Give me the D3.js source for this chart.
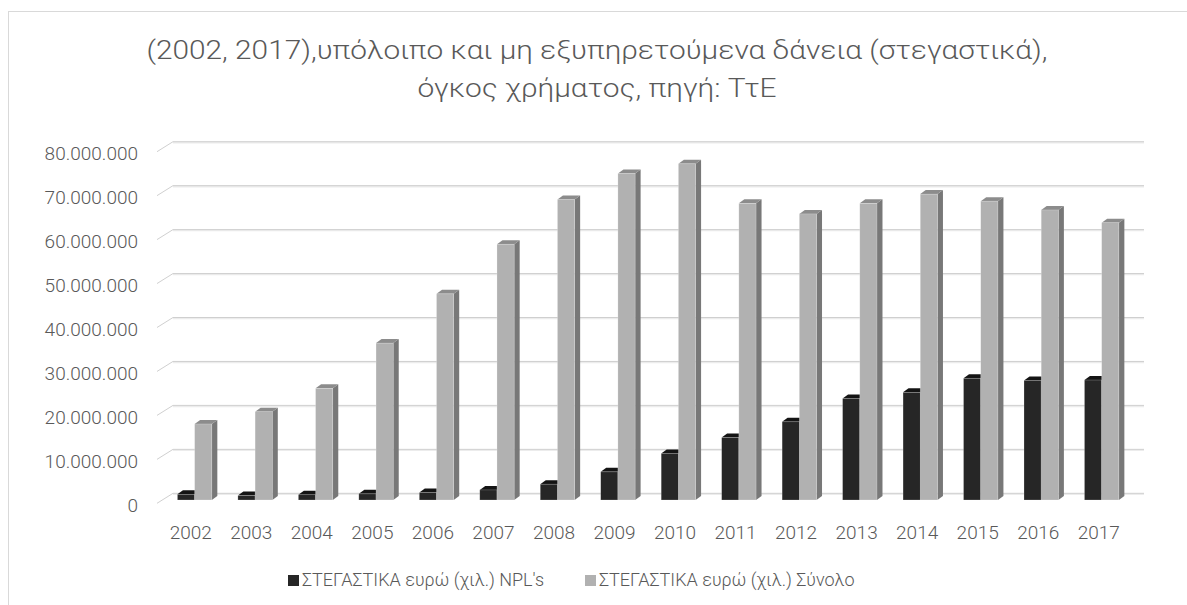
<!DOCTYPE html>
<html>
<head>
<meta charset="utf-8">
<script src="https://cdn.jsdelivr.net/npm/d3@7"></script>
<style>
body { margin: 0; background: #fff; }
text { font-family: "Roboto", "DejaVu Sans", sans-serif; fill: #595959; }
</style>
</head>
<body>
<div id="chart"></div>
<script>
var years = ["2002","2003","2004","2005","2006","2007","2008","2009","2010","2011","2012","2013","2014","2015","2016","2017"];
var nplValues = [1300000, 1000000, 1200000, 1400000, 1700000, 2300000, 3600000, 6400000, 10600000, 14200000, 17800000, 23100000, 24500000, 27700000, 27200000, 27300000];
var totalValues = [17300000, 20100000, 25400000, 35700000, 46900000, 58200000, 68400000, 74300000, 76500000, 67500000, 65100000, 67500000, 69600000, 68000000, 66000000, 63100000];
var yTicks = [0, 10000000, 20000000, 30000000, 40000000, 50000000, 60000000, 70000000, 80000000];
var seriesNames = ["ΣΤΕΓΑΣΤΙΚΑ ευρώ (χιλ.) NPL's", "ΣΤΕΓΑΣΤΙΚΑ ευρώ (χιλ.) Σύνολο"];
var titleLines = ["(2002, 2017),υπόλοιπο και μη εξυπηρετούμενα δάνεια (στεγαστικά),", "όγκος χρήματος, πηγή: ΤτΕ"];

var width = 1187, height = 605;
var depthY = 10;                // floor depth
var barDX = 5.5, barDY = 4;     // bar depth
var barW = 17.2;

var svg = d3.select("#chart").append("svg")
    .attr("width", width)
    .attr("height", height);

// chart border
svg.append("rect")
    .attr("x", 8.5)
    .attr("y", 11.5)
    .attr("width", 1200)
    .attr("height", 700)
    .attr("fill", "none")
    .attr("stroke", "#d9d9d9");

var yBack = d3.scaleLinear().domain([0, 80000000]).range([493.3, 141.7]);
var yBar = d3.scaleLinear().domain([0, 80000000]).range([500, 148.4]);
var x = d3.scaleBand().domain(years).range([164.4, 1131.9]).padding(0);
var xLabel = d3.scaleBand().domain(years).range([160.5, 1129]).padding(0);

// title
var titleWidths = [901, 359];
svg.selectAll(".title")
    .data(titleLines)
    .enter().append("text")
    .attr("class", "title")
    .attr("x", 597)
    .attr("y", function (d, i) { return 50 + i * 38; })
    .attr("dy", "0.35em")
    .attr("textLength", function (d, i) { return titleWidths[i]; })
    .attr("lengthAdjust", "spacingAndGlyphs")
    .style("text-anchor", "middle")
    .style("font-size", "26px")
    .style("font-weight", 300)
    .text(function (d) { return d; });

// gridlines on back wall + diagonal on side wall
var grid = svg.append("g").attr("class", "grid");
yTicks.forEach(function (t) {
    var yy = yBack(t);
    grid.append("line")
        .attr("x1", 173).attr("x2", 1144)
        .attr("y1", yy + 1).attr("y2", yy + 1)
        .attr("stroke", "#ececec").attr("stroke-width", 1.5);
    grid.append("line")
        .attr("x1", 173).attr("x2", 1144)
        .attr("y1", yy).attr("y2", yy)
        .attr("stroke", "#cfcfcf").attr("stroke-width", 1);
    grid.append("line")
        .attr("x1", 157).attr("x2", 173)
        .attr("y1", yy + depthY).attr("y2", yy)
        .attr("stroke", "#d0d0d0").attr("stroke-width", 1);
});

// y labels
svg.selectAll(".ylab")
    .data(yTicks)
    .enter().append("text")
    .attr("class", "ylab")
    .attr("x", 138)
    .attr("y", function (d) { return yBack(d) + 12; })
    .attr("dy", "0.35em")
    .style("text-anchor", "end")
    .style("font-size", "19px")
    .style("font-weight", 300)
    .text(function (d) { return d3.format(",")(d).replace(/,/g, "."); });

// x labels
svg.selectAll(".xlab")
    .data(years)
    .enter().append("text")
    .attr("class", "xlab")
    .attr("x", function (d) { return xLabel(d) + xLabel.bandwidth() / 2; })
    .attr("y", 532)
    .attr("dy", "0.35em")
    .style("text-anchor", "middle")
    .style("font-size", "19px")
    .style("font-weight", 300)
    .text(function (d) { return d; });

function drawBar(g, x0, v, front, top, side) {
    var y0 = yBar(0), yt = yBar(v);
    g.append("polygon")
        .attr("points", [[x0 + barW, yt], [x0 + barW + barDX, yt - barDY], [x0 + barW + barDX, y0 - barDY], [x0 + barW, y0]].join(" "))
        .attr("fill", side);
    g.append("polygon")
        .attr("points", [[x0, yt], [x0 + barDX, yt - barDY], [x0 + barW + barDX, yt - barDY], [x0 + barW, yt]].join(" "))
        .attr("fill", top);
    g.append("rect")
        .attr("x", x0).attr("y", yt)
        .attr("width", barW).attr("height", y0 - yt)
        .attr("fill", front)
        .attr("stroke", "rgba(255,255,255,0.35)")
        .attr("stroke-width", 0.6);
}

var bars = svg.append("g").attr("class", "bars");
years.forEach(function (yr, i) {
    var cx = x(yr) + x.bandwidth() / 2;
    var g = bars.append("g");
    drawBar(g, cx - barW, nplValues[i], "#262626", "#141414", "#111");
    drawBar(g, cx, totalValues[i], "#b1b1b1", "#8c8c8c", "#787878");
});

// legend
var legendX = [288, 585];
var legendColors = ["#262626", "#b1b1b1"];
var legend = svg.selectAll(".legend")
    .data(seriesNames)
    .enter().append("g")
    .attr("class", "legend")
    .attr("transform", function (d, i) { return "translate(" + legendX[i] + ",580)"; });
legend.append("rect")
    .attr("x", 0).attr("y", -5)
    .attr("width", 11).attr("height", 11)
    .attr("fill", function (d, i) { return legendColors[i]; });
legend.append("text")
    .attr("x", 14)
    .attr("y", 0)
    .attr("dy", "0.35em")
    .style("font-size", "18px")
    .style("font-weight", 300)
    .text(function (d) { return d; });
</script>
</body>
</html>
